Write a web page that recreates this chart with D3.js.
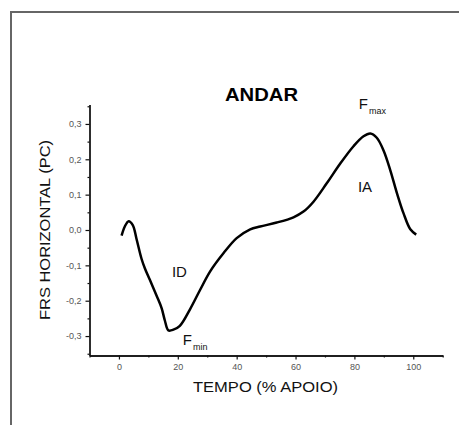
<!DOCTYPE html>
<html>
<head>
<meta charset="utf-8">
<script src="https://cdn.jsdelivr.net/npm/d3@7"></script>
<style>
  body { margin: 0; background: #fff; }
  svg { display: block; font-family: "Liberation Sans", Arial, sans-serif; }
</style>
</head>
<body>
<div id="chart"></div>
<script>
let w = 459;
let h = 425;

// curve: % of stance vs horizontal GRF
let tempo = [0.9, 2.0, 3.3, 4.7, 6.0, 7.7, 8.8, 10.5, 12.8, 14.5, 15.6, 16.8, 18.5, 20.7, 24.1, 27.6, 31.0, 35.5, 40.0, 44.6, 48.0, 53.6, 59.3, 62.7, 66.1, 70.6, 75.2, 79.7, 83.1, 85.4, 87.6, 89.9, 92.2, 94.5, 96.7, 99.0, 101.0];
let frs = [-0.016, 0.010, 0.025, 0.014, -0.026, -0.082, -0.108, -0.141, -0.186, -0.221, -0.256, -0.284, -0.282, -0.271, -0.225, -0.169, -0.117, -0.066, -0.023, 0.002, 0.010, 0.021, 0.036, 0.052, 0.080, 0.132, 0.188, 0.237, 0.265, 0.273, 0.261, 0.225, 0.169, 0.103, 0.047, 0.002, -0.013];

let xTicks = [0, 20, 40, 60, 80, 100];
let xMinor = [-10, 10, 30, 50, 70, 90, 110];
let yTicks = [-0.3, -0.2, -0.1, 0.0, 0.1, 0.2, 0.3];
let yMinor = [-0.35, -0.25, -0.15, -0.05, 0.05, 0.15, 0.25, 0.35];

let points = tempo.map((t, i) => ({t: t, v: frs[i]}));

let svg = d3.select("#chart").append("svg")
  .attr("width", w)
  .attr("height", h);

svg.append("rect").attr("width", w).attr("height", h).attr("fill", "#fff");

// outer frame (only left and top edges show)
svg.append("path")
  .attr("d", "M11," + h + "V12H" + w)
  .attr("fill", "none")
  .attr("stroke", "#666")
  .attr("stroke-width", 2);

let xScale = d3.scaleLinear().domain([-10, 110]).range([89.5, 442.7]);
let yScale = d3.scaleLinear().domain([-0.355, 0.355]).range([355.5, 104.5]);

let fmt = v => v.toFixed(1).replace(".", ",");

// x axis
let xAxisGroup = svg.append("g").attr("transform", "translate(0," + yScale(-0.355) + ")");
xAxisGroup.call(d3.axisBottom(xScale).tickValues(xTicks).tickSize(4).tickSizeOuter(0).tickPadding(4));
xAxisGroup.append("g").call(d3.axisBottom(xScale).tickValues(xMinor).tickSize(2).tickSizeOuter(0).tickFormat(""));

// y axis
let yAxisGroup = svg.append("g").attr("transform", "translate(" + xScale(-10) + ",0)");
yAxisGroup.call(d3.axisLeft(yScale).tickValues(yTicks).tickSize(4).tickSizeOuter(0).tickPadding(4).tickFormat(fmt));
yAxisGroup.append("g").call(d3.axisLeft(yScale).tickValues(yMinor).tickSize(2).tickSizeOuter(0).tickFormat(""));

svg.selectAll(".domain").attr("stroke", "#111").attr("stroke-width", 1.3);
svg.selectAll(".tick line").attr("stroke", "#111").attr("stroke-width", 1.2);
svg.selectAll(".tick text")
  .attr("fill", "#555")
  .style("font-size", "9px")
  .style("font-family", "Liberation Sans, Arial, sans-serif");

// curve
let line = d3.line()
  .x(d => xScale(d.t))
  .y(d => yScale(d.v))
  .curve(d3.curveCatmullRom.alpha(0.5));

svg.append("path")
  .datum(points)
  .attr("fill", "none")
  .attr("stroke", "#000")
  .attr("stroke-width", 2.5)
  .attr("stroke-linejoin", "round")
  .attr("d", line);

// titles
svg.append("text")
  .attr("x", 261.5).attr("y", 101)
  .attr("text-anchor", "middle")
  .attr("font-weight", "bold")
  .attr("font-size", 18)
  .attr("textLength", 73)
  .attr("lengthAdjust", "spacingAndGlyphs")
  .text("ANDAR");

svg.append("text")
  .attr("x", 265.5).attr("y", 392)
  .attr("text-anchor", "middle")
  .attr("font-size", 15)
  .attr("fill", "#111")
  .attr("textLength", 145)
  .attr("lengthAdjust", "spacingAndGlyphs")
  .text("TEMPO (% APOIO)");

svg.append("text")
  .attr("transform", "translate(50,230) rotate(-90)")
  .attr("text-anchor", "middle")
  .attr("font-size", 15)
  .attr("fill", "#111")
  .attr("textLength", 180)
  .attr("lengthAdjust", "spacingAndGlyphs")
  .text("FRS HORIZONTAL (PC)");

// annotations
function label(t, v, main, sub) {
  let txt = svg.append("text")
    .attr("x", xScale(t)).attr("y", yScale(v))
    .attr("font-size", 15)
    .attr("fill", "#111")
    .text(main);
  if (sub) {
    txt.append("tspan").attr("dx", 1).attr("dy", 5).attr("font-size", 9).text(sub);
  }
}
label(18.0, -0.133, "ID");
label(81.2, 0.107, "IA");
label(81.5, 0.342, "F", "max");
label(21.7, -0.325, "F", "min");
</script>
</body>
</html>
